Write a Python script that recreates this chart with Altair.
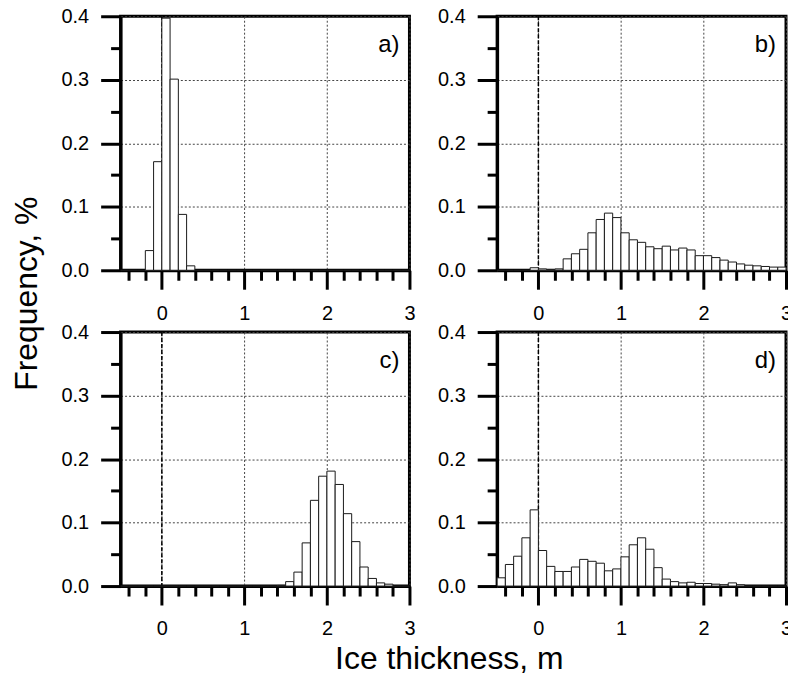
import altair as alt
import pandas as pd

# ---- data (bin starts, bin width 0.1 m) ----
bin_start = [-0.5, -0.4, -0.3, -0.2, -0.1, 0.0, 0.1, 0.2, 0.3, 0.4,
             0.5, 0.6, 0.7, 0.8, 0.9, 1.0, 1.1, 1.2, 1.3, 1.4,
             1.5, 1.6, 1.7, 1.8, 1.9, 2.0, 2.1, 2.2, 2.3, 2.4,
             2.5, 2.6, 2.7, 2.8, 2.9]
bin_width = 0.1

freq_a = [0, 0, 0, 0.031, 0.171, 0.397, 0.301, 0.088, 0.007, 0,
          0, 0, 0, 0, 0, 0, 0, 0, 0, 0,
          0, 0, 0, 0, 0, 0, 0, 0, 0, 0,
          0, 0, 0, 0, 0]
freq_b = [0, 0, 0, 0, 0.004, 0.002, 0.001, 0.002, 0.018, 0.026,
          0.033, 0.059, 0.080, 0.090, 0.083, 0.059, 0.048, 0.044, 0.037, 0.034,
          0.038, 0.032, 0.035, 0.032, 0.023, 0.023, 0.020, 0.016, 0.013, 0.010,
          0.008, 0.007, 0.006, 0.005, 0.005]
freq_c = [0, 0, 0, 0, 0, 0, 0, 0, 0, 0,
          0, 0, 0, 0, 0, 0, 0, 0, 0, 0.001,
          0.007, 0.022, 0.068, 0.135, 0.173, 0.181, 0.160, 0.114, 0.070, 0.030,
          0.012, 0.005, 0.003, 0, 0]
freq_d = [0.013, 0.034, 0.047, 0.076, 0.120, 0.056, 0.031, 0.023, 0.023, 0.030,
          0.042, 0.039, 0.036, 0.024, 0.027, 0.046, 0.065, 0.076, 0.058, 0.029,
          0.011, 0.007, 0.005, 0.006, 0.004, 0.004, 0.003, 0.002, 0.005, 0.002,
          0, 0, 0, 0, 0]

panel_labels = ["a)", "b)", "c)", "d)"]
x_title = "Ice thickness, m"
y_title = "Frequency, %"

x_major = [0, 1, 2, 3]
x_minor = [-0.4, -0.2, 0.2, 0.4, 0.6, 0.8, 1.2, 1.4, 1.6, 1.8, 2.2, 2.4, 2.6, 2.8]
y_major = [0.0, 0.1, 0.2, 0.3, 0.4]
y_minor = [0.05, 0.15, 0.25, 0.35]

FONT = "Liberation Sans"
W, H = 290, 255

xs = alt.Scale(domain=[-0.5, 3], nice=False, zero=False, padding=0)
ys = alt.Scale(domain=[0, 0.4], nice=False, padding=0)

common = dict(domainColor="black", domainWidth=3, tickColor="black", tickWidth=3,
              labelFont=FONT, labelColor="black", labelFontSize=20, labelFlush=False,
              titleFont=FONT, titleColor="black", titleFontWeight="normal",
              titleFontSize=32)
grid = dict(grid=True, gridColor="#444", gridDash=[2, 2], gridWidth=1)


def panel(label, freqs, show_y_title=False, show_x_title=False):
    df = pd.DataFrame({"x0": bin_start,
                       "x1": [round(b + bin_width, 2) for b in bin_start],
                       "f": freqs,
                       "base": [0.0] * len(bin_start)})
    if show_x_title:
        xt = dict(title=x_title, titleX=329.5, titleY=83, titleAlign="center",
                  titleBaseline="alphabetic")
    else:
        xt = dict(title=None)
    if show_y_title:
        yt = dict(title=y_title, titleX=-84, titleY=278, titleAlign="center",
                  titleBaseline="alphabetic", titleAngle=270)
    else:
        yt = dict(title=None)

    x_ax = alt.Axis(orient="bottom", values=x_major, format="d", tickSize=19,
                    labelPadding=14, **grid, **common, **xt)
    y_ax = alt.Axis(orient="left", values=y_major, format=".1f", tickSize=20,
                    labelPadding=12, **grid, **common, **yt)
    x_min = alt.Axis(orient="bottom", values=x_minor, tickSize=10, labels=False,
                     grid=False, title=None, domain=False, tickColor="black", tickWidth=3)
    y_min = alt.Axis(orient="left", values=y_minor, tickSize=10, labels=False,
                     grid=False, title=None, domain=False, tickColor="black", tickWidth=3)

    zero_line = alt.Chart(pd.DataFrame({"x": [0]})).mark_rule(
        color="black", strokeDash=[4, 2], strokeWidth=1.5
    ).encode(x=alt.X("x:Q", scale=xs, axis=None))

    bars = alt.Chart(df).mark_bar(fill="white", stroke="#1a1a1a", strokeWidth=1,
                                  orient="vertical").encode(
        x=alt.X("x0:Q", scale=xs, axis=x_ax),
        x2="x1:Q",
        y=alt.Y("f:Q", scale=ys, axis=y_ax),
        y2="base:Q",
    )
    minor = alt.Chart(df).mark_point(opacity=0).encode(
        x=alt.X("x0:Q", scale=xs, axis=x_min),
        y=alt.Y("f:Q", scale=ys, axis=y_min),
    )
    txt = alt.Chart(pd.DataFrame({"t": [label]})).mark_text(
        align="right", baseline="alphabetic", fontSize=24, font=FONT, color="black"
    ).encode(text="t:N", x=alt.value(W - 10), y=alt.value(36))

    return alt.layer(zero_line, bars, minor, txt).resolve_axis(
        x="independent", y="independent").properties(width=W, height=H)


pa = panel(panel_labels[0], freq_a, show_y_title=True)
pb = panel(panel_labels[1], freq_b)
pc = panel(panel_labels[2], freq_c, show_x_title=True)
pd_ = panel(panel_labels[3], freq_d)

chart = alt.concat(pa, pb, pc, pd_, columns=2,
                   spacing=alt.RowColnumber(row=62, column=88),
                   bounds="flush").properties(
    padding={"left": 1, "top": -5, "right": -6, "bottom": 0},
    background="white",
).configure_view(stroke="black", strokeWidth=3)

chart.save("out.html", embed_options={"renderer": "svg", "actions": False})
